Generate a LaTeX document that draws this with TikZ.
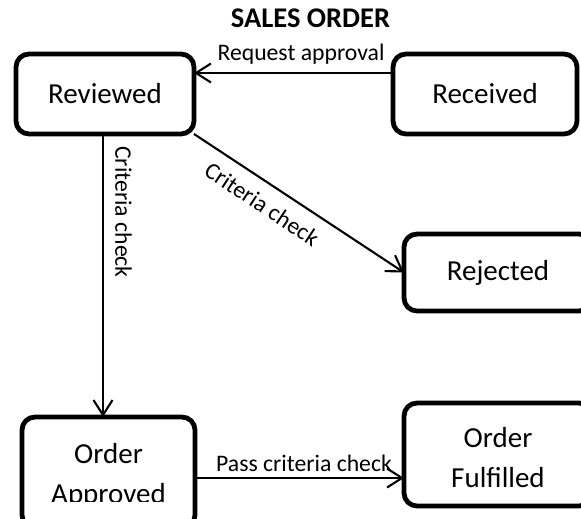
\documentclass[tikz,border=0pt]{standalone}
\usepackage{fontspec}
\setmainfont{Carlito}
\usetikzlibrary{arrows.meta}
\begin{document}
\begin{tikzpicture}[x=1pt,y=-1pt,
  state/.style={draw, line width=4.8pt, rounded corners=13pt, inner sep=0pt,
    outer sep=0pt, align=center, font=\fontsize{29}{40}\selectfont},
  statetext/.style={align=center, inner sep=0pt, font=\fontsize{29}{40}\selectfont},
  flow/.style={draw, line width=2.1pt, -{Straight Barb[length=15pt,width=19pt]}},
  lbl/.style={font=\fontsize{23.7}{28}\selectfont, inner sep=0pt}]
\useasboundingbox (0,0) rectangle (581,519);

% title
\node[font=\bfseries\fontsize{28.5}{30}\selectfont, anchor=base] (title) at (310.5,28) {SALES ORDER};

% states
\node[state, minimum width=178pt, minimum height=80pt] (rev) at (105,94) {Reviewed};
\node[state, minimum width=184pt, minimum height=80pt] (rec) at (485,94) {Received};
\node[state, minimum width=188pt, minimum height=77pt] (rej) at (498,272.5) {Rejected};
\node[state, minimum width=188pt, minimum height=103pt] (ful) at (498,454.5) {};
\node[statetext] (fultext) at ([yshift=-3pt]ful.center) {Order\\Fulfilled};
\node[state, minimum width=173pt, minimum height=111pt] (appr) at (108.5,472.5) {};
\begin{scope}
  % the lower line of this label is cut off just above its baseline
  \clip (appr.north west) rectangle (197,501.5);
  \node[statetext] (apprtext) at ([yshift=-3.5pt]appr.center) {Order\\Approved};
\end{scope}

% transitions
\draw[flow] ([yshift=21pt]rec.west) -- ([yshift=21pt]rev.east);
\draw[flow] ([xshift=-2pt]rev.south) -- ([xshift=-2pt]rev.south |- appr.north);
\draw[flow] (rev.south east) -- (rej.west);
\draw[flow] ([yshift=-5.5pt]appr.east) -- ([yshift=-5.5pt]appr.east -| ful.west);

% transition labels
\node[lbl, anchor=base] (lreq) at (301,60) {Request approval};
\node[lbl, rotate=-90] (lcrit1) at (123.5,212) {Criteria check};
\node[lbl, rotate=-33.5] (lcrit2) at (262,204) {Criteria check};
\node[lbl, anchor=base] (lpass) at (304,471) {Pass criteria check};
\end{tikzpicture}
\end{document}
